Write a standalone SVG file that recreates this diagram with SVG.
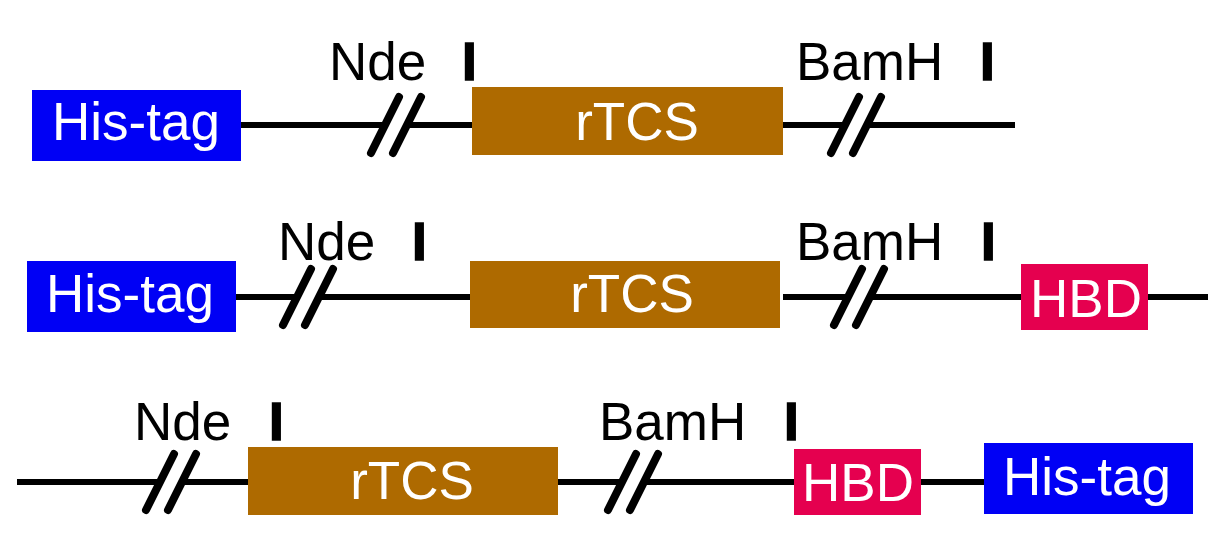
<svg xmlns="http://www.w3.org/2000/svg" width="1222" height="541" viewBox="0 0 1222 541">
<style>
.bg{fill:#ffffff}
.ln{stroke:#000;stroke-width:6;fill:none;stroke-linecap:butt}
.sl{stroke:#000;stroke-width:8;fill:none;stroke-linecap:round}
.his{fill:#0000F5}
.tcs{fill:#AE6A00}
.hbd{fill:#E5004F}
.bt{font-family:"Liberation Sans",Arial,sans-serif;font-size:53px;fill:#fff;text-anchor:middle}
.lb{font-family:"Liberation Sans",Arial,sans-serif;font-size:53px;fill:#000}
.rn{font-family:"Liberation Sans",Arial,sans-serif;font-size:53px;font-weight:bold;fill:#000;stroke:#000;stroke-width:1.5}
</style>
<rect class="bg" x="0" y="0" width="1222" height="541"/>
<g id="connectors">
  <path class="ln" d="M241 125H385M407 125H472M783 125H845M867 125H1015"/>
  <path class="sl" d="M371 153L399 97M393 153L421 97M831 153L859 97M853 153L881 97"/>
  <path class="ln" d="M236 297H297M319 297H470M783 297H848M870 297H1021M1148 297H1208"/>
  <path class="sl" d="M283 325L311 269M305 325L333 269M834 325L862 269M856 325L884 269"/>
  <path class="ln" d="M17 482H160M182 482H248M558 482H622M644 482H794M921 482H984"/>
  <path class="sl" d="M146 510L174 454M168 510L196 454M608 510L636 454M630 510L658 454"/>
</g>
<g id="row1">
  <g id="r1-his"><rect class="his" x="32" y="90" width="209" height="71"/><text class="bt" x="136" y="140">His-tag</text></g>
  <g id="r1-tcs"><rect class="tcs" x="472" y="87" width="311" height="68"/><text class="bt" x="637" y="140">rTCS</text></g>
  <g id="r1-nde"><text class="lb" x="329" y="80">Nde</text><text class="rn" x="462" y="80">I</text></g>
  <g id="r1-bam"><text class="lb" x="796" y="80">BamH</text><text class="rn" x="980" y="80">I</text></g>
</g>
<g id="row2">
  <g id="r2-his"><rect class="his" x="27" y="261" width="209" height="71"/><text class="bt" x="130" y="312">His-tag</text></g>
  <g id="r2-tcs"><rect class="tcs" x="470" y="261" width="310" height="67"/><text class="bt" x="632" y="312">rTCS</text></g>
  <g id="r2-hbd"><rect class="hbd" x="1021" y="264" width="127" height="66"/><text class="bt" x="1086" y="317">HBD</text></g>
  <g id="r2-nde"><text class="lb" x="278" y="260">Nde</text><text class="rn" x="412" y="260">I</text></g>
  <g id="r2-bam"><text class="lb" x="796" y="260">BamH</text><text class="rn" x="981" y="260">I</text></g>
</g>
<g id="row3">
  <g id="r3-tcs"><rect class="tcs" x="248" y="447" width="310" height="68"/><text class="bt" x="412" y="499">rTCS</text></g>
  <g id="r3-hbd"><rect class="hbd" x="794" y="449" width="127" height="66"/><text class="bt" x="858" y="501">HBD</text></g>
  <g id="r3-his"><rect class="his" x="984" y="443" width="209" height="71"/><text class="bt" x="1087" y="495">His-tag</text></g>
  <g id="r3-nde"><text class="lb" x="134" y="440">Nde</text><text class="rn" x="269" y="440">I</text></g>
  <g id="r3-bam"><text class="lb" x="599" y="440">BamH</text><text class="rn" x="784" y="440">I</text></g>
</g>
</svg>
